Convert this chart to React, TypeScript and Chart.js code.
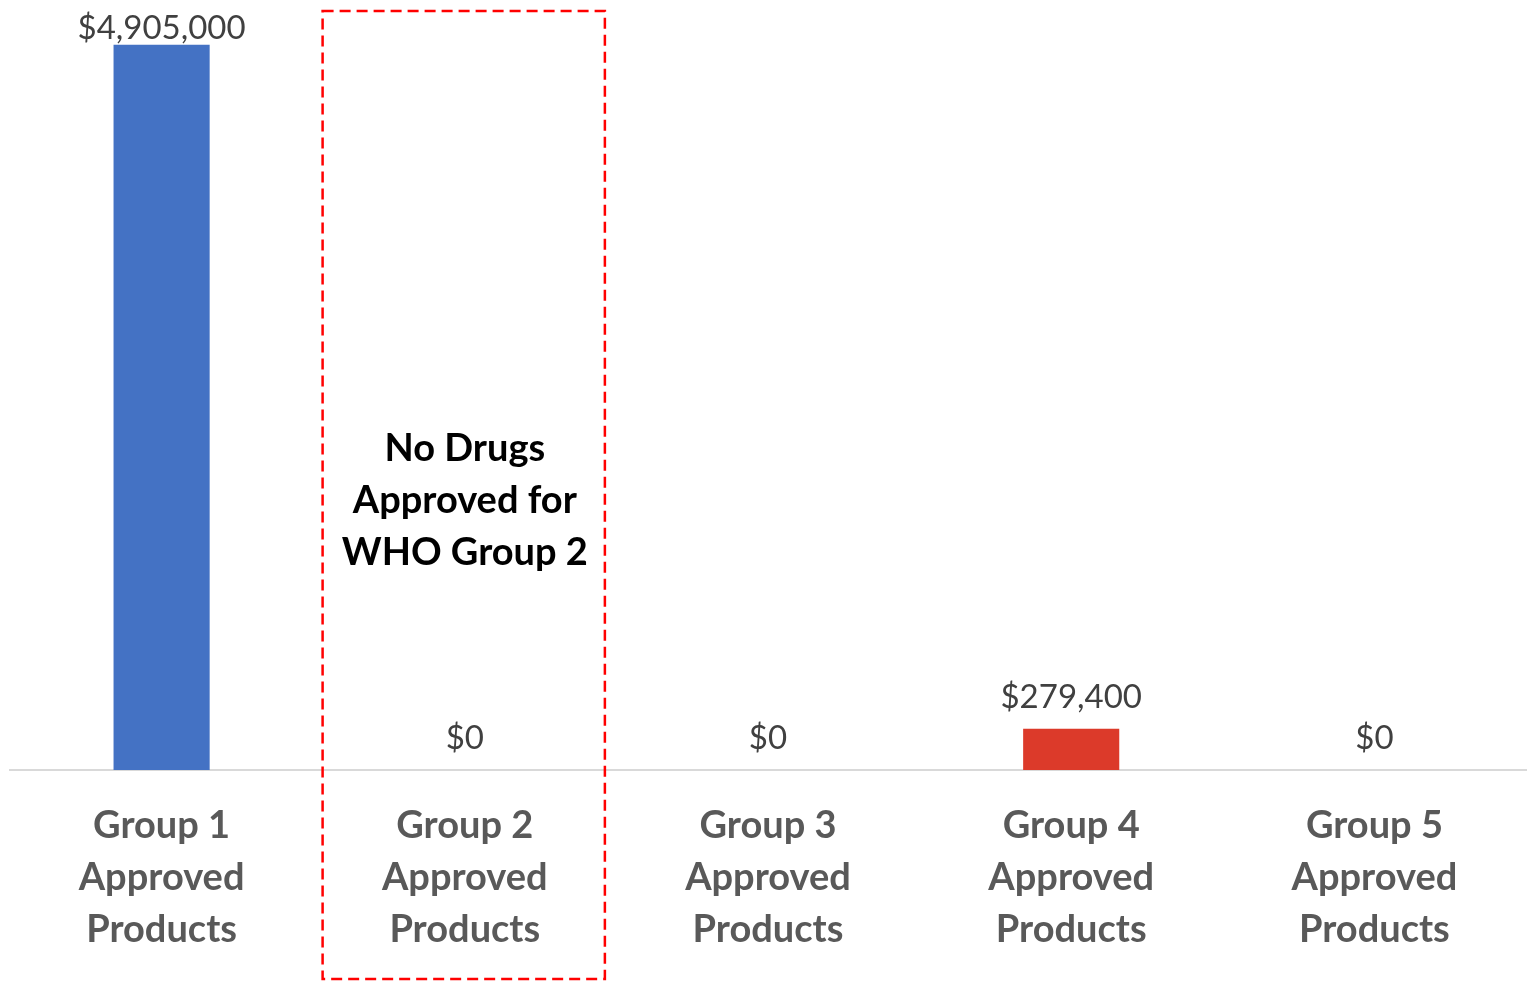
import React, { useEffect, useRef } from "react";
import { Chart, registerables } from "chart.js";

Chart.register(...registerables);

const categories: string[][] = [
  ["Group 1", "Approved", "Products"],
  ["Group 2", "Approved", "Products"],
  ["Group 3", "Approved", "Products"],
  ["Group 4", "Approved", "Products"],
  ["Group 5", "Approved", "Products"],
];
const values: number[] = [4905000, 0, 0, 279400, 0];
const barColors: string[] = ["#4472C4", "#4472C4", "#4472C4", "#DC3A2A", "#4472C4"];
const valueLabels: string[] = values.map((v) => "$" + v.toLocaleString("en-US"));
const noteLines: string[] = ["No Drugs", "Approved for", "WHO Group 2"];
const noteIndex = 1;
const yMax = 5200000;

const FONT = "Lato, 'Open Sans', sans-serif";

const overlayPlugin = {
  id: "overlay",
  afterDatasetsDraw(chart: any) {
    const ctx = chart.ctx as CanvasRenderingContext2D;
    const area = chart.chartArea;
    const meta = chart.getDatasetMeta(0);
    ctx.save();
    // value labels
    ctx.font = `400 33px ${FONT}`;
    ctx.fillStyle = "#404040";
    ctx.textAlign = "center";
    ctx.textBaseline = "alphabetic";
    meta.data.forEach((el: any, i: number) => {
      const y = Math.max(el.y - 21, area.top + 38);
      ctx.fillText(valueLabels[i], el.x, y);
    });
    // dashed box
    const xs = chart.scales.x;
    const cx = xs.getPixelForValue(noteIndex);
    const step = xs.getPixelForValue(1) - xs.getPixelForValue(0);
    const left = cx - 0.469 * step;
    const right = cx + 0.462 * step;
    const top = 11;
    const bottom = chart.height - 2;
    ctx.strokeStyle = "#FF0000";
    ctx.lineWidth = 2.5;
    ctx.setLineDash([11, 6]);
    ctx.strokeRect(left, top, right - left, bottom - top);
    ctx.setLineDash([]);
    // note text
    ctx.font = `700 38px ${FONT}`;
    ctx.fillStyle = "#000000";
    ctx.textBaseline = "middle";
    const midY = area.bottom - 269;
    noteLines.forEach((line, i) => {
      ctx.fillText(line, cx, midY + (i - 1) * 52);
    });
    ctx.restore();
  },
};

export default function App() {
  const canvasRef = useRef<HTMLCanvasElement | null>(null);
  useEffect(() => {
    if (!canvasRef.current) return;
    const chart = new Chart(canvasRef.current, {
      type: "bar",
      data: {
        labels: categories,
        datasets: [
          {
            data: values,
            backgroundColor: barColors,
            borderWidth: 0,
            categoryPercentage: 1,
            barPercentage: 0.317,
          },
        ],
      },
      options: {
        animation: false,
        responsive: false,
        maintainAspectRatio: false,
        layout: { padding: { left: 10, right: 2, top: 1, bottom: -5 } },
        plugins: {
          legend: { display: false },
          tooltip: { enabled: false },
        },
        scales: {
          x: {
            grid: { display: false, drawTicks: false },
            border: { display: true, color: "#D9D9D9", width: 2 },
            ticks: {
              color: "#595959",
              font: { family: FONT, size: 38, weight: "bold", lineHeight: "52px" },
              padding: 30,
              maxRotation: 0,
              autoSkip: false,
            },
          },
          y: {
            display: false,
            min: 0,
            max: yMax,
          },
        },
      },
      plugins: [overlayPlugin],
    });
    return () => chart.destroy();
  }, []);
  return (
    <div style={{ position: "absolute", left: 0, top: 0, width: 1528, height: 981, background: "#fff" }}>
      <canvas ref={canvasRef} width={1528} height={981} style={{ width: 1528, height: 981 }} />
    </div>
  );
}
